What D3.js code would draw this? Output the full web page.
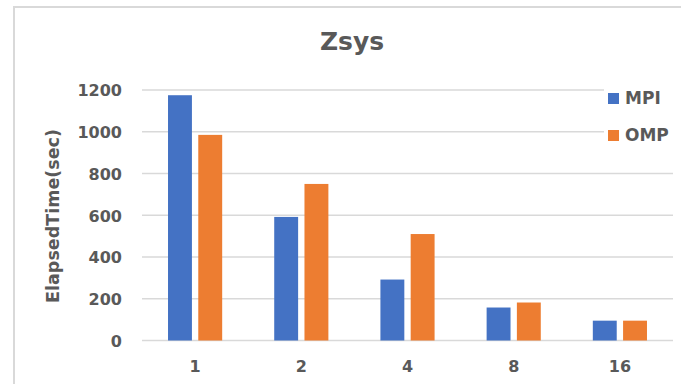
<!DOCTYPE html>
<html>
<head>
<meta charset="utf-8">
<script src="https://cdn.jsdelivr.net/npm/d3@7"></script>
<style>
  body { margin: 0; background: #fff; }
  text { font-family: "DejaVu Sans", sans-serif; font-weight: bold; fill: #595959; }
</style>
</head>
<body>
<script>
// data
var categories = ['1', '2', '4', '8', '16'];
var seriesNames = ['MPI', 'OMP'];
var mpiValues = [1175, 592, 292, 158, 95];
var ompValues = [985, 750, 510, 182, 95];
var yTicks = [0, 200, 400, 600, 800, 1000, 1200];
var colors = ['#4472c4', '#ed7d31'];

var w = 681, h = 384;
var plot = { left: 142, right: 673, top: 90, bottom: 340.5 };

var svg = d3.select('body')
    .append('svg')
    .attr('width', w)
    .attr('height', h);

// chart frame
svg.append('rect')
    .attr('x', 14)
    .attr('y', 7)
    .attr('width', 700)
    .attr('height', 400)
    .attr('fill', '#fff')
    .attr('stroke', '#d9d9d9')
    .attr('stroke-width', 2);

var x0 = d3.scaleBand()
    .domain(categories)
    .range([plot.left, plot.right])
    .paddingInner(0.49)
    .paddingOuter(0.245);

var x1 = d3.scaleBand()
    .domain(seriesNames)
    .range([0, x0.bandwidth()])
    .paddingInner(0.21);

var y = d3.scaleLinear()
    .domain([0, 1200])
    .range([plot.bottom, plot.top]);

// gridlines
svg.append('g')
    .selectAll('line')
    .data(yTicks)
    .join('line')
    .attr('x1', plot.left)
    .attr('x2', plot.right)
    .attr('y1', d => y(d))
    .attr('y2', d => y(d))
    .attr('stroke', '#d9d9d9')
    .attr('stroke-width', 1.3);

// y axis labels
var yAxis = d3.axisLeft(y).tickValues(yTicks).tickFormat(d3.format('d')).tickSize(0).tickPadding(0);
svg.append('g')
    .attr('transform', 'translate(122,0)')
    .call(yAxis)
    .call(g => g.select('.domain').remove())
    .selectAll('text')
    .attr('font-size', 16)
    .attr('font-family', null)
    .attr('fill', null)
    .attr('dy', '0.36em');

// x axis labels
var xAxis = d3.axisBottom(x0).tickSize(0).tickPadding(0);
svg.append('g')
    .attr('transform', 'translate(0,' + plot.bottom + ')')
    .call(xAxis)
    .call(g => g.select('.domain').remove())
    .selectAll('text')
    .attr('font-size', 16)
    .attr('font-family', null)
    .attr('fill', null)
    .attr('dy', null)
    .attr('y', 31);

// bars
var rows = categories.map((c, i) => ({ cat: c, vals: [mpiValues[i], ompValues[i]] }));
var groups = svg.append('g')
    .selectAll('g')
    .data(rows)
    .join('g')
    .attr('transform', d => 'translate(' + x0(d.cat) + ',0)');
groups.selectAll('rect')
    .data(d => d.vals.map((v, j) => ({ name: seriesNames[j], v: v, c: colors[j] })))
    .join('rect')
    .attr('x', d => x1(d.name))
    .attr('width', x1.bandwidth())
    .attr('y', d => y(d.v))
    .attr('height', d => y(0) - y(d.v))
    .attr('fill', d => d.c);

// title
svg.append('text')
    .attr('x', 352)
    .attr('y', 50)
    .attr('text-anchor', 'middle')
    .attr('font-size', 25)
    .text('Zsys');

// y axis title
svg.append('text')
    .attr('transform', 'translate(59,216) rotate(-90)')
    .attr('text-anchor', 'middle')
    .attr('font-size', 17.5)
    .text('ElapsedTime(sec)');

// legend
var legend = svg.append('g')
    .attr('transform', 'translate(604,80)');
legend.append('rect')
    .attr('width', 76)
    .attr('height', 70)
    .attr('fill', '#fff');
var items = legend.selectAll('g')
    .data(seriesNames)
    .join('g')
    .attr('transform', (d, i) => 'translate(0,' + (i * 37) + ')');
items.append('rect')
    .attr('x', 4)
    .attr('y', 13)
    .attr('width', 11)
    .attr('height', 11)
    .attr('fill', (d, i) => colors[i]);
items.append('text')
    .attr('x', 21)
    .attr('y', 24)
    .attr('font-size', 17)
    .text(d => d);
</script>
</body>
</html>
